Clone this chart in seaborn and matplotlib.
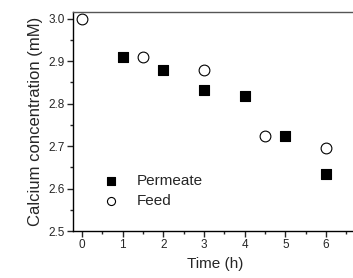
import matplotlib
matplotlib.use("Agg")
import matplotlib.pyplot as plt
import seaborn as sns
import pandas as pd
from matplotlib.ticker import MultipleLocator, FormatStrFormatter

permeate_time = [1, 2, 3, 4, 5, 6]
permeate_conc = [2.909, 2.879, 2.833, 2.817, 2.725, 2.635]
feed_time = [0, 1.5, 3, 4.5, 6]
feed_conc = [3.0, 2.909, 2.879, 2.725, 2.696]

perm = pd.DataFrame({"time": permeate_time, "conc": permeate_conc})
feed = pd.DataFrame({"time": feed_time, "conc": feed_conc})

sns.set_style("ticks")
plt.rcParams["font.family"] = ["Liberation Sans", "DejaVu Sans"]

fig = plt.figure(figsize=(3.53, 2.78), dpi=100)
ax = fig.add_axes([73 / 353, 1 - 231 / 278, 1.0 - 73 / 353 + 0.01, (231 - 12) / 278])

sns.scatterplot(data=perm, x="time", y="conc", ax=ax, marker="s", s=52,
                color="black", edgecolor="black", linewidth=0.8, label="Permeate")
sns.scatterplot(data=feed, x="time", y="conc", ax=ax, marker="o", s=60,
                facecolor="white", edgecolor="black", linewidth=0.8, label="Feed")

ax.set_xlim(-0.22, 6.75)
ax.set_ylim(2.5, 3.016)
ax.xaxis.set_major_locator(MultipleLocator(1))
ax.xaxis.set_minor_locator(MultipleLocator(0.5))
ax.yaxis.set_major_locator(MultipleLocator(0.1))
ax.yaxis.set_minor_locator(MultipleLocator(0.05))
ax.tick_params(which="major", direction="out", length=4, width=1, labelsize=8.5, pad=2)
ax.tick_params(which="minor", direction="out", length=2.5, width=1)
ax.yaxis.set_major_formatter(FormatStrFormatter("%.1f"))

for side in ["left", "bottom", "top"]:
    ax.spines[side].set_linewidth(1)
    ax.spines[side].set_color("black")
ax.spines["top"].set_color("#555555")
ax.spines["right"].set_visible(False)

ax.set_xlabel("Time (h)", fontsize=11, labelpad=4)
ax.set_ylabel("Calcium concentration (mM)", fontsize=12, labelpad=4)

ax.legend(loc="upper left", bbox_to_anchor=(0.08, 0.29), frameon=False,
          fontsize=11, handletextpad=1.1, labelspacing=0.45, borderaxespad=0,
          markerscale=0.75, handlelength=1.2)

fig.savefig("out.png", dpi=100)
